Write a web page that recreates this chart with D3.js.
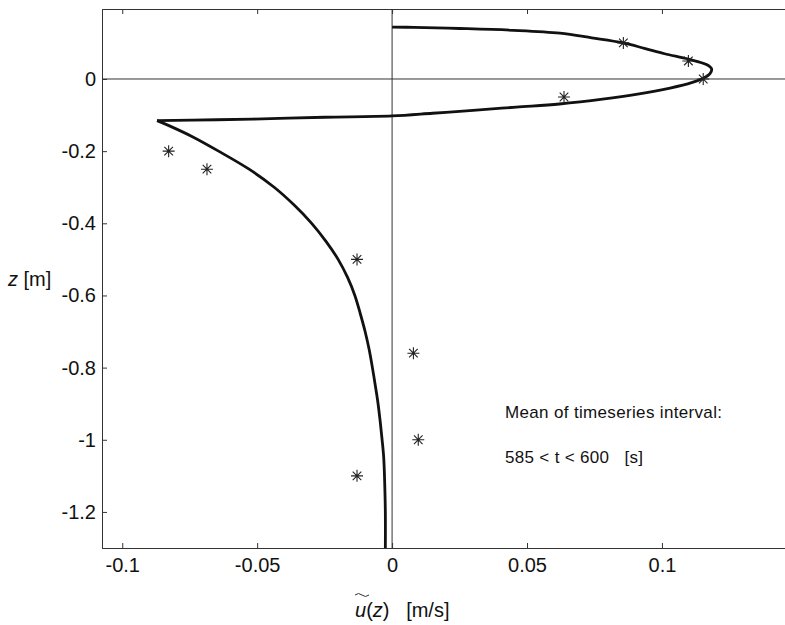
<!DOCTYPE html>
<html>
<head>
<meta charset="utf-8">
<script src="https://cdn.jsdelivr.net/npm/d3@7"></script>
<style>
  body { margin: 0; background: #fff; }
  text { font-family: "Liberation Sans", Arial, sans-serif; fill: #111; }
</style>
</head>
<body>
<div id="container"></div>
<script>
// velocity profile u(z) (bottom to top)
var profileZ = [-1.30, -1.20, -1.13, -1.05, -1.00, -0.95, -0.90, -0.86, -0.80, -0.75, -0.70, -0.65,
  -0.60, -0.55, -0.50, -0.45, -0.40, -0.35, -0.30, -0.25, -0.20, -0.16, -0.13, -0.1155,
  -0.113, -0.110, -0.106, -0.1025, -0.095, -0.087, -0.078, -0.0693, -0.056, -0.042, -0.025, -0.010,
  0.003, 0.015, 0.028, 0.040, 0.055, 0.070, 0.085, 0.100, 0.114, 0.127, 0.135, 0.140, 0.143, 0.144];
var profileU = [-0.0025, -0.0025, -0.0027, -0.0031, -0.0037, -0.0044, -0.0052, -0.0060, -0.0073, -0.0085, -0.0100, -0.0118,
  -0.0138, -0.0165, -0.0200, -0.0245, -0.0298, -0.0362, -0.0437, -0.0530, -0.0643, -0.0740, -0.0825, -0.0871,
  -0.065, -0.045, -0.025, 0.000, 0.015, 0.030, 0.046, 0.062, 0.078, 0.091, 0.103, 0.111,
  0.1155, 0.1178, 0.1184, 0.1165, 0.1098, 0.1010, 0.0935, 0.0856, 0.0740, 0.0622, 0.0450, 0.0250, 0.0080, 0.000];

// measured points (asterisks)
var obsZ = [0.10, 0.05, 0.00, -0.05, -0.20, -0.25, -0.50, -0.76, -1.00, -1.10];
var obsU = [0.0857, 0.1098, 0.1153, 0.0637, -0.0828, -0.0686, -0.0130, 0.0079, 0.0097, -0.0130];

var xTicks = [-0.1, -0.05, 0, 0.05, 0.1];
var yTicks = [0, -0.2, -0.4, -0.6, -0.8, -1, -1.2];

var W = 785, H = 625;
var plotL = 102, plotR = 785, plotT = 9, plotB = 548;

var svg = d3.select("#container").append("svg")
  .attr("width", W).attr("height", H);

var x = d3.scaleLinear().domain([-0.1075, 0.1456]).range([plotL, plotR]);
var y = d3.scaleLinear().domain([-1.3, 0.194]).range([plotB, plotT]);

var fmt = function(d) { return d === 0 ? "0" : String(d); };

// axes with inward ticks
var xAxisB = d3.axisBottom(x).tickValues(xTicks).tickSize(-5).tickPadding(10).tickFormat(fmt);
var xAxisT = d3.axisTop(x).tickValues(xTicks).tickSize(-5).tickFormat("");
var yAxisL = d3.axisLeft(y).tickValues(yTicks).tickSize(-5).tickPadding(6).tickFormat(fmt);

function styleAxis(g) {
  g.select(".domain").attr("stroke", "#333").attr("stroke-width", 1);
  g.selectAll(".tick line").attr("stroke", "#333");
  g.selectAll(".tick text").style("font-size", "20px").attr("fill", "#111");
}

svg.append("g").attr("transform", "translate(0," + plotB + ")").call(xAxisB).call(styleAxis);
svg.append("g").attr("transform", "translate(0," + plotT + ")").call(xAxisT).call(styleAxis);
svg.append("g").attr("transform", "translate(" + plotL + ",0)").call(yAxisL).call(styleAxis);

// zero lines
svg.append("line")
  .attr("x1", plotL).attr("x2", plotR)
  .attr("y1", y(0)).attr("y2", y(0))
  .attr("stroke", "#333").attr("stroke-width", 1);
svg.append("line")
  .attr("x1", x(0)).attr("x2", x(0))
  .attr("y1", plotT).attr("y2", plotB)
  .attr("stroke", "#333").attr("stroke-width", 1);

// profile line, split at the sharp tip so the curve does not round it off
var line = d3.line()
  .x(function(d) { return x(d[0]); })
  .y(function(d) { return y(d[1]); })
  .curve(d3.curveCatmullRom.alpha(0.5));

var pts = d3.zip(profileU, profileZ);
var tip = d3.minIndex(profileU);

svg.selectAll(".profile")
  .data([pts.slice(0, tip + 1), pts.slice(tip)])
  .enter().append("path")
  .attr("class", "profile")
  .attr("d", line)
  .attr("fill", "none")
  .attr("stroke", "#111")
  .attr("stroke-width", 2.8)
  .attr("stroke-linecap", "butt");

// asterisk markers (plus + cross)
var r = 6, rd = 4.3;
var star = "M" + (-r) + ",0L" + r + ",0M0," + (-r) + "L0," + r +
  "M" + (-rd) + "," + (-rd) + "L" + rd + "," + rd + "M" + (-rd) + "," + rd + "L" + rd + "," + (-rd);

svg.selectAll(".obs")
  .data(d3.zip(obsU, obsZ))
  .enter().append("path")
  .attr("class", "obs")
  .attr("transform", function(d) { return "translate(" + x(d[0]) + "," + y(d[1]) + ")"; })
  .attr("d", star)
  .attr("fill", "none")
  .attr("stroke", "#222")
  .attr("stroke-width", 1.1);

// y label
var yl = svg.append("text").attr("x", 8).attr("y", 286).style("font-size", "20px");
yl.append("tspan").style("font-style", "italic").text("z");
yl.append("tspan").text(" [m]");

// x label
var xl = svg.append("text").attr("x", 355).attr("y", 617).style("font-size", "20px");
xl.append("tspan").style("font-style", "italic").text("u");
xl.append("tspan").text("(");
xl.append("tspan").style("font-style", "italic").text("z");
xl.append("tspan").text(")\u00a0\u00a0\u00a0[m/s]");
svg.append("path")
  .attr("d", "M355,595 q3.5,-3 7,0 t7,0")
  .attr("fill", "none").attr("stroke", "#333").attr("stroke-width", 1);

// annotation
svg.append("text").attr("x", 505).attr("y", 418).style("font-size", "17px")
  .attr("textLength", 217).text("Mean of timeseries interval:");
svg.append("text").attr("x", 505).attr("y", 463).style("font-size", "17px")
  .attr("textLength", 138).text("585 < t < 600\u00a0\u00a0\u00a0[s]");
</script>
</body>
</html>
